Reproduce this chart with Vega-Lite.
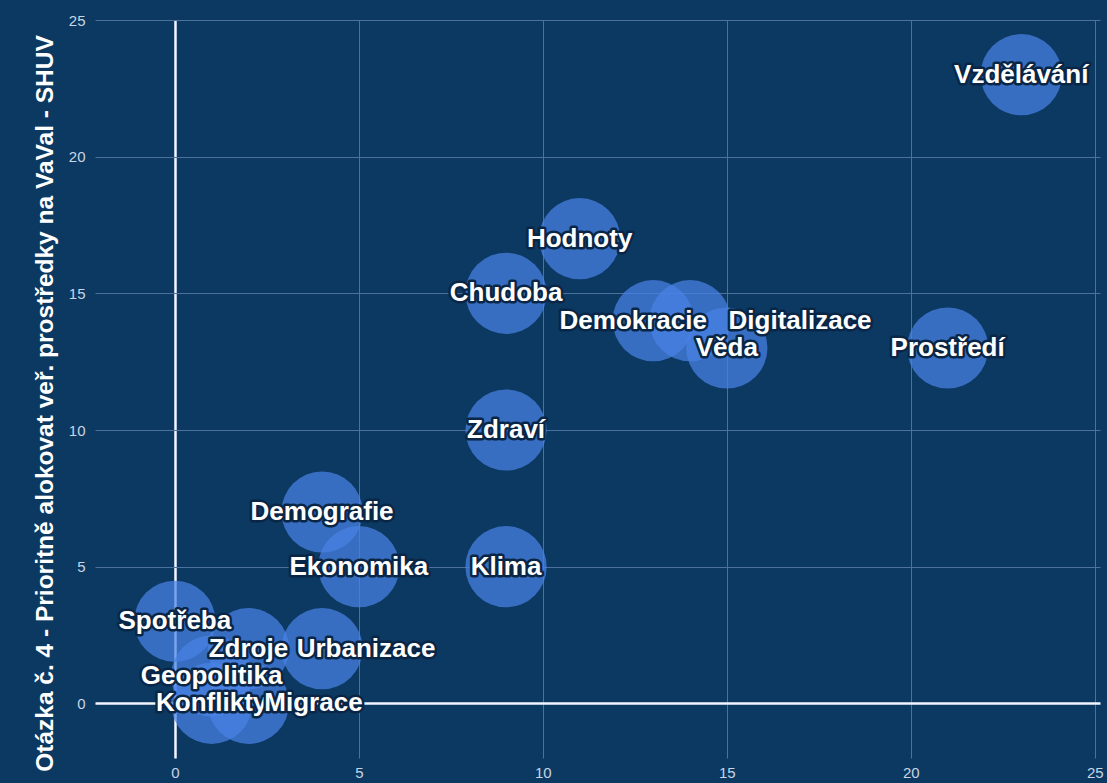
{
  "$schema": "https://vega.github.io/schema/vega-lite/v6.json",
  "width": 1005,
  "height": 738,
  "autosize": {"type": "none"},
  "padding": {"left": 95, "top": 20, "right": 7, "bottom": 25},
  "background": "#0c3962",
  "config": {"view": {"stroke": null}},
  "data": {"values": [
    {"tema": "Vzdělávání", "x": 23, "y": 23},
    {"tema": "Hodnoty", "x": 11, "y": 17},
    {"tema": "Chudoba", "x": 9, "y": 15},
    {"tema": "Demokracie", "x": 13, "y": 14},
    {"tema": "Digitalizace", "x": 14, "y": 14},
    {"tema": "Věda", "x": 15, "y": 13},
    {"tema": "Prostředí", "x": 21, "y": 13},
    {"tema": "Zdraví", "x": 9, "y": 10},
    {"tema": "Demografie", "x": 4, "y": 7},
    {"tema": "Ekonomika", "x": 5, "y": 5},
    {"tema": "Klima", "x": 9, "y": 5},
    {"tema": "Spotřeba", "x": 0, "y": 3},
    {"tema": "Zdroje", "x": 2, "y": 2},
    {"tema": "Urbanizace", "x": 4, "y": 2},
    {"tema": "Geopolitika", "x": 1, "y": 1},
    {"tema": "Konflikty", "x": 1, "y": 0},
    {"tema": "Migrace", "x": 2, "y": 0}
  ]},
  "encoding": {
    "x": {
      "field": "x", "type": "quantitative",
      "scale": {"domain": [-2.17, 25.14], "nice": false, "zero": false},
      "axis": {
        "title": null, "values": [0, 5, 10, 15, 20, 25],
        "grid": true,
        "gridColor": {"condition": {"test": "datum.value === 0", "value": "#f2f6ff"}, "value": "#4c719c"},
        "gridWidth": {"condition": {"test": "datum.value === 0", "value": 2.5}, "value": 1},
        "domain": false, "ticks": false,
        "labelFont": "Liberation Sans", "labelFontSize": 15, "labelColor": "#c8d5e4",
        "labelPadding": 7
      }
    },
    "y": {
      "field": "y", "type": "quantitative",
      "scale": {"domain": [-2, 25], "nice": false, "zero": false},
      "axis": {
        "title": "Otázka č. 4 - Prioritně alokovat veř. prostředky na VaVal - SHUV",
        "values": [0, 5, 10, 15, 20, 25],
        "grid": true,
        "gridColor": {"condition": {"test": "datum.value === 0", "value": "#f2f6ff"}, "value": "#4c719c"},
        "gridWidth": {"condition": {"test": "datum.value === 0", "value": 2.5}, "value": 1},
        "domain": false, "ticks": false,
        "labelFont": "Liberation Sans", "labelFontSize": 15, "labelColor": "#c8d5e4",
        "labelPadding": 10,
        "titleFont": "Liberation Sans", "titleFontSize": 24.5, "titleFontWeight": "bold",
        "titleColor": "#ffffff", "titleX": -50, "titleY": 383, "titleAngle": -90,
        "titleAlign": "center", "titleBaseline": "middle"
      }
    },
    "text": {"field": "tema"}
  },
  "layer": [
    {"mark": {"type": "circle", "size": 6600, "color": "#4a82e6", "opacity": 0.72}},
    {"transform": [{"filter": "indexof(['Demokracie','Digitalizace','Urbanizace','Migrace'], datum.tema) < 0"}],
     "mark": {"type": "text", "font": "Liberation Sans", "fontSize": 26, "fontWeight": "bold", "align": "center", "baseline": "middle", "stroke": "#0a2646", "strokeWidth": 5, "strokeJoin": "round", "fill": "#0a2646"}},
    {"transform": [{"filter": "indexof(['Demokracie','Digitalizace','Urbanizace','Migrace'], datum.tema) < 0"}],
     "mark": {"type": "text", "font": "Liberation Sans", "fontSize": 26, "fontWeight": "bold", "align": "center", "baseline": "middle", "fill": "#ffffff"}},
    {"transform": [{"filter": "datum.tema === 'Demokracie'"}],
     "mark": {"type": "text", "dx": -20, "font": "Liberation Sans", "fontSize": 26, "fontWeight": "bold", "align": "center", "baseline": "middle", "stroke": "#0a2646", "strokeWidth": 5, "strokeJoin": "round", "fill": "#0a2646"}},
    {"transform": [{"filter": "datum.tema === 'Demokracie'"}],
     "mark": {"type": "text", "dx": -20, "font": "Liberation Sans", "fontSize": 26, "fontWeight": "bold", "align": "center", "baseline": "middle", "fill": "#ffffff"}},
    {"transform": [{"filter": "datum.tema === 'Digitalizace'"}],
     "mark": {"type": "text", "dx": 110, "font": "Liberation Sans", "fontSize": 26, "fontWeight": "bold", "align": "center", "baseline": "middle", "stroke": "#0a2646", "strokeWidth": 5, "strokeJoin": "round", "fill": "#0a2646"}},
    {"transform": [{"filter": "datum.tema === 'Digitalizace'"}],
     "mark": {"type": "text", "dx": 110, "font": "Liberation Sans", "fontSize": 26, "fontWeight": "bold", "align": "center", "baseline": "middle", "fill": "#ffffff"}},
    {"transform": [{"filter": "datum.tema === 'Urbanizace'"}],
     "mark": {"type": "text", "dx": 44, "font": "Liberation Sans", "fontSize": 26, "fontWeight": "bold", "align": "center", "baseline": "middle", "stroke": "#0a2646", "strokeWidth": 5, "strokeJoin": "round", "fill": "#0a2646"}},
    {"transform": [{"filter": "datum.tema === 'Urbanizace'"}],
     "mark": {"type": "text", "dx": 44, "font": "Liberation Sans", "fontSize": 26, "fontWeight": "bold", "align": "center", "baseline": "middle", "fill": "#ffffff"}},
    {"transform": [{"filter": "datum.tema === 'Migrace'"}],
     "mark": {"type": "text", "dx": 65, "font": "Liberation Sans", "fontSize": 26, "fontWeight": "bold", "align": "center", "baseline": "middle", "stroke": "#0a2646", "strokeWidth": 5, "strokeJoin": "round", "fill": "#0a2646"}},
    {"transform": [{"filter": "datum.tema === 'Migrace'"}],
     "mark": {"type": "text", "dx": 65, "font": "Liberation Sans", "fontSize": 26, "fontWeight": "bold", "align": "center", "baseline": "middle", "fill": "#ffffff"}}
  ]
}
